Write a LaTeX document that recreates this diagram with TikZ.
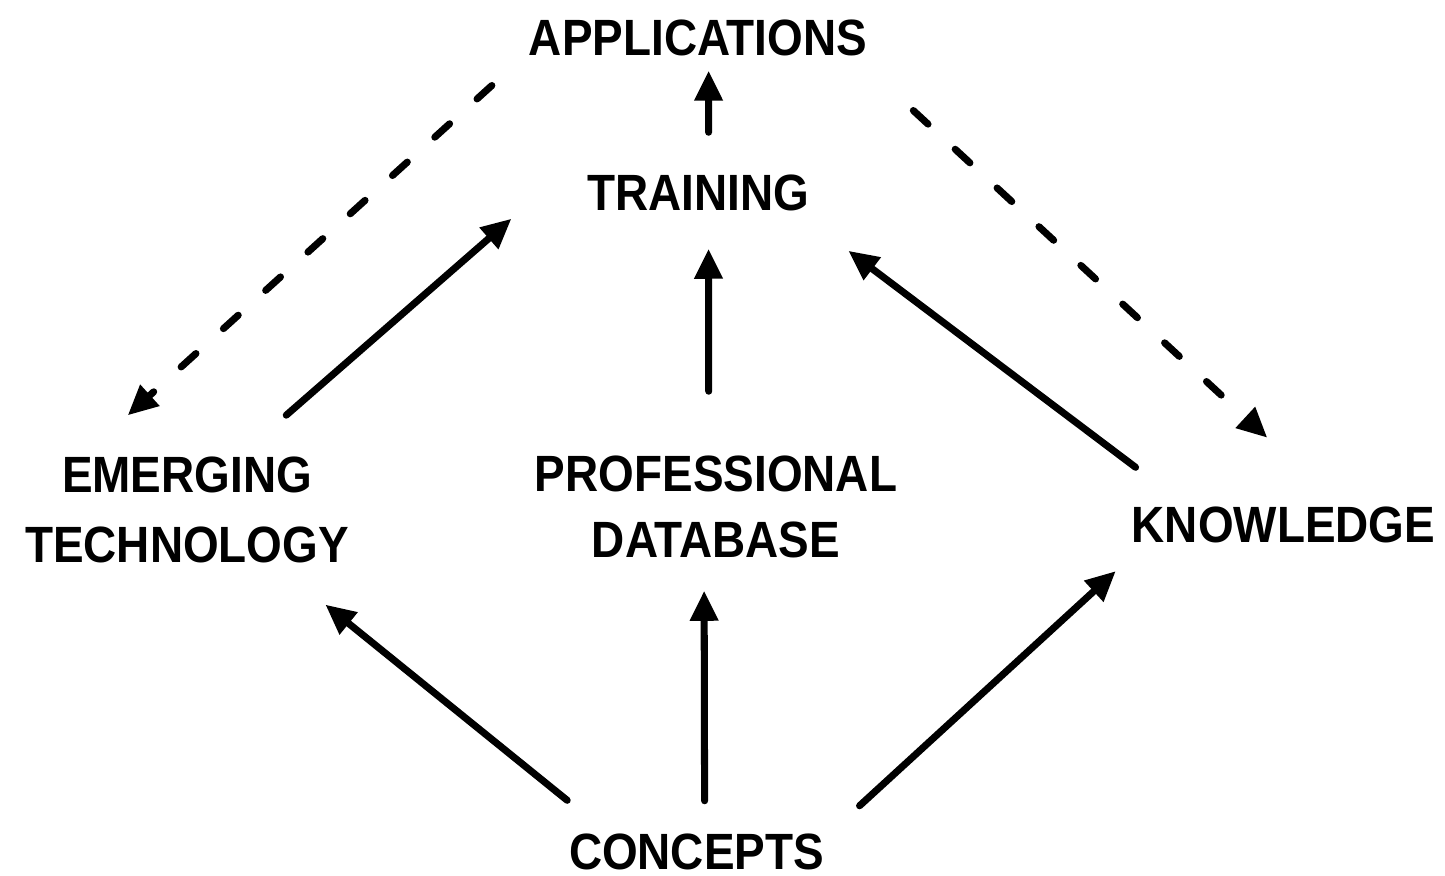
\documentclass[tikz,border=0pt]{standalone}
\usepackage{fontspec}
\setmainfont{Liberation Sans}[FakeStretch=0.9]
\usepackage{tikz}
\usetikzlibrary{arrows.meta}
\tikzset{myLabel/.style={inner sep=0pt, align=center, text height=0.37cm, text depth=0pt, font=\bfseries\fontsize{14.5}{20}\selectfont}}
\tikzset{myArrow/.style={line width=2pt, line cap=round, -{Triangle[length=0.3cm, width=0.27cm]}}}
\tikzset{myDashed/.style={myArrow, dash pattern=on 0.2cm off 0.37cm}}

\begin{document}
\begin{tikzpicture}[x=0.01cm, y=-0.01cm]

\useasboundingbox (0,0) rectangle (1445,876);

\node[myLabel, text width=3.46cm] (app) at (698, 37) {APPLICATIONS};
\node[myLabel, text width=2.19cm, inner xsep=0.28cm] (trn) at (697, 192) {TRAINING};
\node[myLabel, text width=3.30cm, text depth=0.703cm] (emg) at (187, 508.7) {EMERGING\\TECHNOLOGY};
\node[myLabel, text width=3.72cm, text depth=0.65cm, font=\bfseries\fontsize{14.5}{18.5}\selectfont] (db) at (716, 506) {PROFESSIONAL\\DATABASE};
\node[myLabel, text width=3.13cm] (kno) at (1283.5, 523.5) {KNOWLEDGE};
\node[myLabel, text width=2.67cm] (cpt) at (696.5, 851) {CONCEPTS};

% upward flow
\draw[myArrow, shorten <=0.405cm, shorten >=0.145cm] (trn.59.3) -- (app.-61.6);
\draw[myArrow, shorten <=0.63cm, shorten >=0.375cm] (db.98.9) -- (trn.-59.3);
\draw[myArrow, shorten <=0.31cm, shorten >=0.33cm] (cpt.67.9) -- (db.-103.2);
\draw[myArrow, shorten <=0.50cm, shorten >=0.66cm] (cpt.168.9) -- (emg.-32.4);
\draw[myArrow, shorten <=0.39cm, shorten >=0.42cm] (cpt.8.4) -- (kno.188.2);
\draw[myArrow, shorten <=0.595cm, shorten >=0.627cm] (emg.45.5) -- (trn.174.6);
\draw[myArrow, shorten <=0.614cm, shorten >=0.657cm] (kno.169.8) -- (trn.-11.3);

% feedback
\draw[myDashed, shorten <=0.436cm, shorten >=0.58cm] (app.south west) -- (emg.152.8);
\draw[myDashed, shorten <=0.80cm, shorten >=0.98cm] (app.-7.9) -- (kno.19.8);

\end{tikzpicture}
\end{document}
